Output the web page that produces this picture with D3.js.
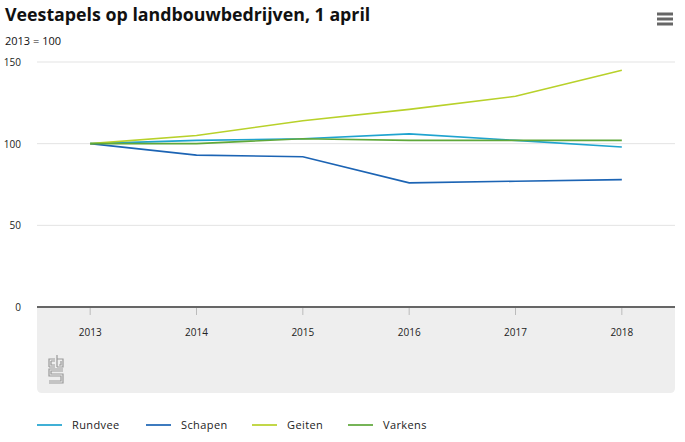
<!DOCTYPE html>
<html>
<head>
<meta charset="utf-8">
<script src="https://cdn.jsdelivr.net/npm/d3@7"></script>
<style>
  body { margin: 0; background: #fff; }
  text { font-family: "Open Sans", "Noto Sans", sans-serif; }
</style>
</head>
<body>
<div id="chart"></div>
<script>
// data, 2013 = 100
var years = ["2013", "2014", "2015", "2016", "2017", "2018"];
var rundvee = [100, 102, 103, 106, 102, 98];
var schapen = [100, 93, 92, 76, 77, 78];
var geiten = [100, 105, 114, 121, 129, 145];
var varkens = [100, 100, 103, 102, 102, 102];
var yTicks = [0, 50, 100, 150];

var seriesNames = ["Rundvee", "Schapen", "Geiten", "Varkens"];
var seriesValues = [rundvee, schapen, geiten, varkens];
var colors = ["#1fa3cf", "#1c64b4", "#b8d12a", "#5fa83a"];

var svgWidth = 685;
var svgHeight = 442;

var margin = { top: 62, right: 10, bottom: 135, left: 37 };
var chartWidth = svgWidth - margin.left - margin.right;
var chartHeight = svgHeight - margin.top - margin.bottom;

var svg = d3.select("#chart")
  .append("svg")
  .attr("width", svgWidth)
  .attr("height", svgHeight);

// title + subtitle
svg.append("text")
  .attr("x", 5)
  .attr("y", 21)
  .style("font-size", "17.8px")
  .style("font-weight", "bold")
  .attr("fill", "#111")
  .text("Veestapels op landbouwbedrijven, 1 april");

svg.append("text")
  .attr("x", 5)
  .attr("y", 45)
  .style("font-size", "11px")
  .attr("fill", "#111")
  .text("2013 = 100");

// menu icon
[14, 19, 24].forEach(function(y) {
  svg.append("rect")
    .attr("x", 657).attr("y", y - 1.5)
    .attr("width", 16).attr("height", 3)
    .attr("fill", "#666");
});

var chartGroup = svg.append("g")
  .attr("transform", `translate(${margin.left}, ${margin.top})`);

var xScale = d3.scaleBand()
  .domain(years)
  .range([0, chartWidth]);

var yScale = d3.scaleLinear()
  .domain([0, 150])
  .range([chartHeight, 0]);

// grey panel under x axis
chartGroup.append("path")
  .attr("d", function() {
    var w = chartWidth, h = 86, r = 5;
    return `M0,${chartHeight} H${w} V${chartHeight + h - r} Q${w},${chartHeight + h} ${w - r},${chartHeight + h} H${r} Q0,${chartHeight + h} 0,${chartHeight + h - r} Z`;
  })
  .attr("fill", "#eeeeee");

// gridlines
chartGroup.selectAll(".grid")
  .data(yTicks.slice(1))
  .enter()
  .append("line")
  .attr("x1", 0)
  .attr("x2", chartWidth)
  .attr("y1", d => yScale(d))
  .attr("y2", d => yScale(d))
  .attr("stroke", "#e3e3e3")
  .attr("stroke-width", 1);

// y labels
chartGroup.selectAll(".ylab")
  .data(yTicks)
  .enter()
  .append("text")
  .attr("x", -16)
  .attr("y", d => yScale(d) + 4)
  .attr("text-anchor", "end")
  .style("font-size", "10px")
  .attr("fill", "#222")
  .text(d => d);

// x axis
var bottomAxis = d3.axisBottom(xScale).tickSize(8).tickPadding(14);
var xAxisG = chartGroup.append("g")
  .attr("transform", `translate(0, ${chartHeight})`)
  .call(bottomAxis);
xAxisG.select(".domain").remove();
xAxisG.selectAll(".tick line").attr("stroke", "#bbb");
xAxisG.selectAll(".tick text")
  .style("font-size", "10px")
  .style("font-family", "'Open Sans', sans-serif")
  .attr("fill", "#222");

chartGroup.append("line")
  .attr("x1", 0).attr("x2", chartWidth)
  .attr("y1", chartHeight).attr("y2", chartHeight)
  .attr("stroke", "#666")
  .attr("stroke-width", 2);

// lines
var line = d3.line()
  .x((d, i) => xScale(years[i]) + xScale.bandwidth() / 2)
  .y(d => yScale(d));

chartGroup.selectAll(".series")
  .data(seriesValues)
  .enter()
  .append("path")
  .attr("d", d => line(d))
  .attr("fill", "none")
  .attr("stroke", (d, i) => colors[i])
  .attr("stroke-width", 1.6);

// cbs logo
var logo = svg.append("g")
  .attr("transform", "translate(49, 355)")
  .attr("fill", "none")
  .attr("stroke", "#999")
  .attr("stroke-width", 1.2);
logo.append("path").attr("d", "M0,12 V4 H6 M0,12 H6 M2,6 H6 M2,6 V10 H6");
logo.append("path").attr("d", "M8,12 V0 M8,12 H14 V4 H8 M10,10 H12 V6");
logo.append("path").attr("d", "M14,14 H0 V21 H12 V26 H0 M0,28 H14 V19 H2 V16 H14");

// legend
var legendX = [37, 146, 252, 348];
var legend = svg.selectAll(".legend")
  .data(seriesNames)
  .enter()
  .append("g")
  .attr("transform", (d, i) => `translate(${legendX[i]}, 425)`);

legend.append("line")
  .attr("x1", 0).attr("x2", 25)
  .attr("y1", 0).attr("y2", 0)
  .attr("stroke", (d, i) => colors[i])
  .attr("stroke-width", 2)
  .attr("opacity", 0.85);

legend.append("text")
  .attr("x", 35)
  .attr("y", 4)
  .style("font-size", "11px")
  .style("letter-spacing", "0.4px")
  .attr("fill", "#222")
  .text(d => d);
</script>
</body>
</html>
